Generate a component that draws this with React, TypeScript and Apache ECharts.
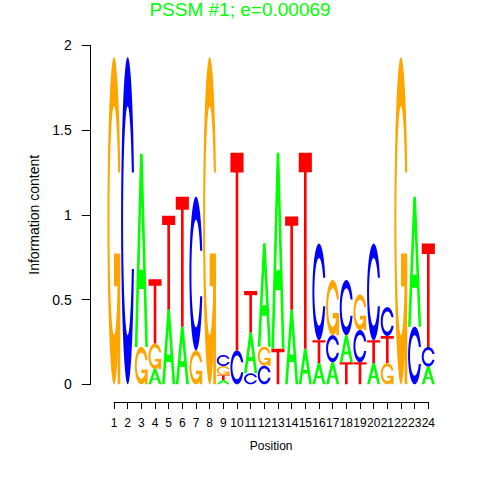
import React, { useEffect, useRef } from "react";
import * as echarts from "echarts";

const TITLE = "PSSM #1; e=0.00069";
const X_NAME = "Position";
const Y_NAME = "Information content";
const POSITIONS = [1, 2, 3, 4, 5, 6, 7, 8, 9, 10, 11, 12, 13, 14, 15, 16, 17, 18, 19, 20, 21, 22, 23, 24];
const LETTERS = ["A", "C", "G", "T"];
const LETTER_COLORS = ["#00FF00", "#0000FF", "#FFA500", "#FF0000"];
// information content (bits) of each letter at each position
const BITS_A = [0, 0, 1.14, 0.09, 0.44, 0.34, 0, 0, 0.025, 0, 0.24, 0.61, 1.156, 0.44, 0.21, 0.125, 0.13, 0.16, 0, 0.125, 0, 0, 0.767, 0.105];
const BITS_C = [0, 1.93, 0, 0, 0, 0, 0.907, 0, 0.065, 0.2, 0.065, 0.11, 0, 0, 0, 0.57, 0.16, 0.325, 0.19, 0.57, 0.17, 0, 0.34, 0.115];
const BITS_G = [1.93, 0, 0.22, 0.15, 0, 0, 0.2, 1.93, 0.055, 0, 0, 0.112, 0, 0, 0, 0, 0.325, 0, 0.21, 0, 0.125, 1.93, 0, 0];
const BITS_T = [0, 0, 0, 0.38, 0.555, 0.767, 0, 0, 0.028, 1.166, 0.245, 0, 0.21, 0.55, 1.156, 0.135, 0, 0.13, 0.13, 0.135, 0.16, 0, 0, 0.61];

const FONT = "'Liberation Sans', Arial, Helvetica, sans-serif";
const LETTER_W = 0.96;

type Pt = [number, number];
type Part = { pts: Pt[]; fill?: string };

function lin(a: number, b: number, n: number): number[] {
  return Array.from({ length: n }, (_, i) => a + ((b - a) * i) / (n - 1));
}

function buildC(): { poly: Pt[]; r1: number } {
  const N = 60;
  const a1 = lin(0.3 + Math.PI / 2, Math.PI, N);
  const a2 = lin(Math.PI, 1.5 * Math.PI, N);
  const l1: Pt[] = a1.map((a) => [0.5 + 0.5 * Math.sin(a), 0.5 + 0.5 * Math.cos(a)]);
  const l2: Pt[] = a2.map((a) => [0.5 + 0.5 * Math.sin(a), 0.5 + 0.5 * Math.cos(a)]);
  const l = [...l1, ...l2];
  const outer: Pt[] = [...l, ...l.slice().reverse().map(([x, y]) => [x, 1 - y] as Pt)];
  const maxY1 = Math.max(...l1.map((p) => p[1]));
  const r1 = Math.max(...l1.map((p) => p[0]));
  let i1: Pt[] = a1
    .map((a) => [0.5 + 0.35 * Math.sin(a), 0.5 + 0.35 * Math.cos(a)] as Pt)
    .filter((p) => p[1] <= maxY1);
  if (i1.length) i1[0] = [i1[0][0], maxY1];
  const i2: Pt[] = a2.map((a) => [0.5 + 0.35 * Math.sin(a), 0.5 + 0.35 * Math.cos(a)] as Pt);
  const il = [...i1, ...i2];
  const inner: Pt[] = [...il, ...il.slice().reverse().map(([x, y]) => [x, 1 - y] as Pt)];
  return { poly: [...outer, ...inner.slice().reverse()], r1 };
}

const C_SHAPE = buildC();
const GLYPHS: Part[][] = [
  [
    { pts: [[0, 0], [0.4, 1], [0.6, 1], [1, 0], [0.8, 0], [0.68, 0.3], [0.32, 0.3], [0.2, 0]] },
    { pts: [[0.36, 0.4], [0.5, 0.75], [0.64, 0.4]], fill: "#FFFFFF" },
  ],
  [{ pts: C_SHAPE.poly }],
  [
    { pts: C_SHAPE.poly },
    {
      pts: [
        [C_SHAPE.r1, 0.4], [0.5, 0.4], [0.5, 0.3], [C_SHAPE.r1 - 0.2, 0.3],
        [C_SHAPE.r1 - 0.2, 0], [C_SHAPE.r1, 0], [C_SHAPE.r1, 0.4],
      ],
    },
  ],
  [{ pts: [[0, 1], [1, 1], [1, 0.9], [0.6, 0.9], [0.6, 0], [0.4, 0], [0.4, 0.9], [0, 0.9]] }],
];

function buildStackData(): number[][] {
  const cols = [BITS_A, BITS_C, BITS_G, BITS_T];
  const out: number[][] = [];
  POSITIONS.forEach((pos, j) => {
    const items = cols
      .map((arr, li) => ({ li, h: arr[j] }))
      .filter((d) => d.h > 0)
      .sort((a, b) => a.h - b.h);
    let y = 0;
    items.forEach((d) => {
      out.push([pos, y, y + d.h, d.li]);
      y += d.h;
    });
  });
  return out;
}

export default function App() {
  const ref = useRef<HTMLDivElement>(null);
  useEffect(() => {
    if (!ref.current) return;
    const chart = echarts.init(ref.current, undefined, { renderer: "svg" });
    const data = buildStackData();
    chart.setOption({
      animation: false,
      backgroundColor: "#FFFFFF",
      title: {
        text: TITLE,
        left: "center",
        top: 0,
        padding: 0,
        textStyle: { color: "#00FF00", fontSize: 19, fontWeight: "normal", fontFamily: FONT },
      },
      grid: {
        left: 114,
        right: 51.7,
        top: 45.3,
        bottom: 95.7,
        containLabel: false,
        outerBoundsMode: "none",
      },
      xAxis: {
        type: "value",
        min: POSITIONS[0],
        max: POSITIONS[POSITIONS.length - 1],
        interval: 1,
        offset: 17.7,
        name: X_NAME,
        nameLocation: "middle",
        nameGap: 38,
        nameTextStyle: { color: "#000", fontSize: 12, fontFamily: FONT },
        axisLine: { show: true, onZero: false, lineStyle: { color: "#000", width: 1 } },
        axisTick: { show: true, length: 7, lineStyle: { color: "#000", width: 1 } },
        axisLabel: { color: "#000", fontSize: 12, fontFamily: FONT, margin: 14.5, hideOverlap: false },
        splitLine: { show: false },
      },
      yAxis: {
        type: "value",
        min: 0,
        max: 2,
        interval: 0.5,
        offset: 23.3,
        name: Y_NAME,
        nameLocation: "middle",
        nameGap: 42,
        nameRotate: 90,
        nameTextStyle: { color: "#000", fontSize: 14, fontFamily: FONT },
        axisLine: { show: true, lineStyle: { color: "#000", width: 1 } },
        axisTick: { show: true, length: 9, lineStyle: { color: "#000", width: 1 } },
        axisLabel: { color: "#000", fontSize: 14, fontFamily: FONT, margin: 19 },
        splitLine: { show: false },
      },
      series: [
        {
          type: "custom",
          clip: false,
          silent: true,
          encode: { x: 0, y: [1, 2] },
          data,
          renderItem: (params: any, api: any) => {
            const pos = api.value(0);
            const y0 = api.value(1);
            const y1 = api.value(2);
            const li = api.value(3);
            const p0 = api.coord([pos - LETTER_W / 2, y0]);
            const p1 = api.coord([pos + LETTER_W / 2, y1]);
            const w = p1[0] - p0[0];
            const h = p0[1] - p1[1];
            const color = LETTER_COLORS[li];
            return {
              type: "group",
              children: GLYPHS[li].map((part) => ({
                type: "polygon",
                shape: { points: part.pts.map(([u, v]) => [p0[0] + u * w, p0[1] - v * h]) },
                style: { fill: part.fill || color, stroke: null },
              })),
            };
          },
        },
      ],
    });
    return () => chart.dispose();
  }, []);
  return (
    <div
      ref={ref}
      style={{ position: "fixed", left: 0, top: 0, width: 480, height: 480, background: "#fff" }}
    />
  );
}
